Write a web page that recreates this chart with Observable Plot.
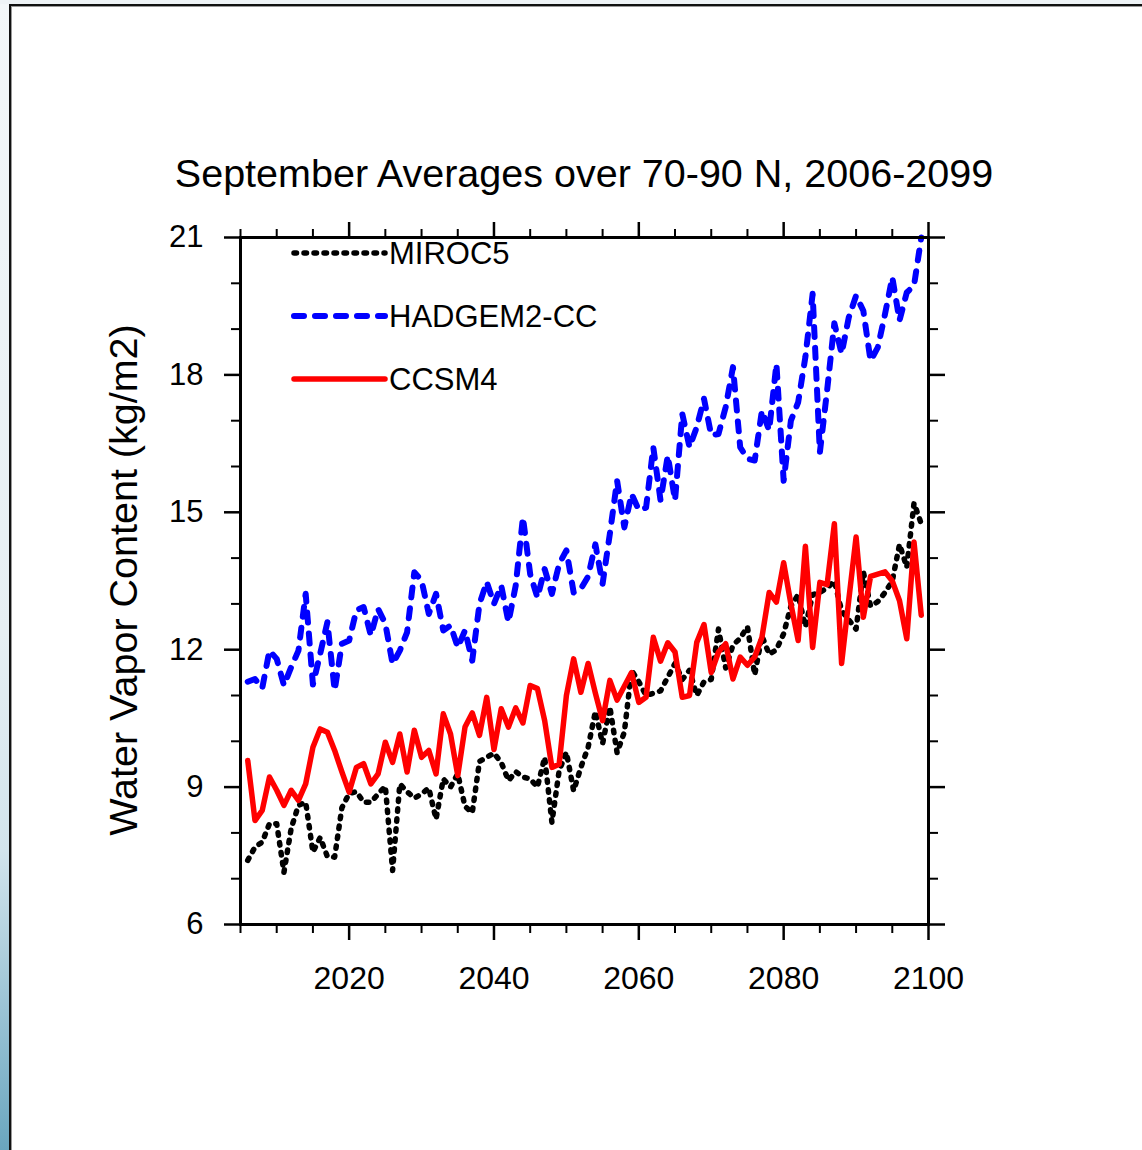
<!DOCTYPE html>
<html>
<head>
<meta charset="utf-8">
<script src="https://cdn.jsdelivr.net/npm/d3@7"></script>
<script src="https://cdn.jsdelivr.net/npm/@observablehq/plot@0.6"></script>
<style>
  html, body { margin: 0; padding: 0; background: #fff; }
  #page { position: relative; width: 1142px; height: 1150px; overflow: hidden; background: #fff; font-family: "Liberation Sans", Arial, sans-serif; }
  #strip { position: absolute; left: 0; top: 0; width: 9px; height: 1150px;
    background: linear-gradient(to bottom, #f3f7f9 0%, #e6eff3 55%, #d2e4ec 74%, #6aa6bf 100%); }
  #topstrip { position: absolute; left: 0; top: 0; width: 1142px; height: 4px; background: #eef3f6; }
  #border { position: absolute; left: 9px; top: 4px; width: 1140px; height: 1150px;
    border-left: 2px solid #111; border-top: 2px solid #111; box-shadow: inset 1px 1px 0 #999; }
  #chart { position: absolute; left: 0; top: 0; }
  #overlay { position: absolute; left: 0; top: 0; }
</style>
</head>
<body>
<div id="page">
  <div id="strip"></div>
  <div id="topstrip"></div>
  <div id="border"></div>
  <div id="chart"></div>
  <svg id="overlay" width="1142" height="1150"></svg>
</div>
<script>
const startYear = 2006;
const seriesNames = ["MIROC5", "HADGEM2-CC", "CCSM4"];

const miroc5 = [
  7.40, 7.69, 7.80, 8.20, 8.20, 7.14, 8.10, 8.60, 8.67, 7.58,
  7.90, 7.48, 7.47, 8.55, 8.86, 8.90, 8.67, 8.67, 8.85, 9.02,
  7.18, 9.07, 8.90, 8.76, 8.85, 8.98, 8.30, 9.18, 9.00, 9.29,
  8.58, 8.44, 9.56, 9.65, 9.74, 9.54, 9.14, 9.34, 9.22, 9.18,
  9.00, 9.65, 8.23, 9.36, 9.76, 8.92, 9.43, 9.87, 10.65, 9.95,
  10.75, 9.75, 10.20, 11.55, 11.30, 11.00, 11.05, 11.10, 11.40, 11.70,
  11.35, 11.55, 11.00, 11.30, 11.35, 12.45, 11.60, 12.10, 12.25, 12.50,
  11.45, 12.30, 11.90, 12.00, 12.35, 12.95, 13.20, 12.50, 13.20, 13.25,
  13.35, 13.50, 12.85, 12.65, 12.45, 13.70, 12.95, 13.05, 13.25, 13.50,
  14.30, 13.80, 15.20, 14.75
];

const hadgem2cc = [
  11.30, 11.36, 11.16, 11.98, 11.80, 11.22, 11.62, 11.98, 13.22, 11.24,
  11.91, 12.60, 11.11, 12.13, 12.20, 12.86, 12.93, 12.31, 12.89, 12.57,
  11.69, 11.98, 12.38, 13.69, 13.51, 12.78, 13.22, 12.42, 12.53, 12.05,
  12.42, 11.76, 13.00, 13.48, 13.00, 13.40, 12.60, 13.40, 14.89, 13.65,
  13.14, 13.76, 13.22, 13.87, 14.17, 13.25, 13.33, 13.60, 14.30, 13.44,
  14.53, 15.69, 14.67, 15.40, 15.05, 15.10, 16.42, 15.26, 16.24, 15.26,
  17.15, 16.42, 16.86, 17.48, 16.68, 16.71, 17.30, 18.17, 16.42, 16.17,
  16.13, 17.22, 16.79, 18.24, 15.69, 17.00, 17.40, 18.39, 19.77, 16.31,
  17.66, 19.13, 18.46, 19.26, 19.73, 19.40, 18.31, 18.60, 19.33, 20.13,
  19.19, 19.80, 19.95, 21.00
];

const ccsm4 = [
  9.58, 8.27, 8.49, 9.22, 8.93, 8.60, 8.93, 8.71, 9.07, 9.87,
  10.27, 10.20, 9.80, 9.33, 8.89, 9.43, 9.51, 9.07, 9.29, 9.98,
  9.54, 10.16, 9.33, 10.24, 9.65, 9.80, 9.29, 10.60, 10.16, 9.25,
  10.31, 10.62, 10.13, 10.96, 9.82, 10.71, 10.31, 10.73, 10.40, 11.22,
  11.15, 10.45, 9.43, 9.50, 11.00, 11.80, 11.07, 11.70, 11.05, 10.45,
  11.33, 10.90, 11.20, 11.50, 10.85, 10.96, 12.27, 11.75, 12.15, 11.95,
  10.96, 11.00, 12.16, 12.55, 11.50, 11.95, 12.13, 11.36, 11.84, 11.66,
  11.84, 12.27, 13.25, 13.04, 13.90, 13.00, 12.20, 14.26, 12.05, 13.47,
  13.42, 14.75, 11.70, 13.10, 14.46, 12.71, 13.60, 13.65, 13.70, 13.50,
  13.07, 12.24, 14.35, 12.75
];

const xMajorTicks = [2020, 2040, 2060, 2080, 2100];
const xMinorTicks = [2005, 2010, 2015, 2025, 2030, 2035, 2045, 2050, 2055, 2065, 2070, 2075, 2085, 2090, 2095];
const yMajorTicks = [6, 9, 12, 15, 18, 21];
const yMinorTicks = [7, 8, 10, 11, 13, 14, 16, 17, 19, 20];

const titleText = "September Averages over 70-90 N, 2006-2099";
const yLabelText = "Water Vapor Content (kg/m2)";

const toRows = (vals) => vals.map((v, i) => ({year: startYear + i, value: v}));

const styles = {
  "MIROC5": {stroke: "#000000", strokeWidth: 5.5, strokeDasharray: "2.5,7.5"},
  "HADGEM2-CC": {stroke: "#0000ff", strokeWidth: 6, strokeDasharray: "10,11"},
  "CCSM4": {stroke: "#ff0000", strokeWidth: 5.5, strokeDasharray: null}
};
const seriesValues = {"MIROC5": miroc5, "HADGEM2-CC": hadgem2cc, "CCSM4": ccsm4};

const blank = () => "";
const font = "Liberation Sans, Arial, sans-serif";

const lineMarks = seriesNames.map(name => Plot.line(toRows(seriesValues[name]), {
  x: "year", y: "value",
  stroke: styles[name].stroke,
  strokeWidth: styles[name].strokeWidth,
  strokeDasharray: styles[name].strokeDasharray,
  strokeLinecap: "round", strokeLinejoin: "round"
}));

const chart = Plot.plot({
  width: 1142, height: 1150,
  marginLeft: 240, marginRight: 214, marginTop: 237, marginBottom: 226,
  x: {domain: [2005, 2100]},
  y: {domain: [6, 21]},
  style: {fontFamily: font, fontSize: "31px", color: "#000", background: "transparent", overflow: "visible"},
  marks: [
    ...lineMarks,
    Plot.frame({stroke: "#000", strokeWidth: 3}),
    Plot.axisX({anchor: "bottom", ticks: xMajorTicks, tickSize: 16, tickPadding: 26, tickFormat: d => String(d), strokeWidth: 2.5, fontSize: 32, label: null}),
    Plot.axisX({anchor: "bottom", ticks: xMinorTicks, tickSize: 9, tickFormat: blank, strokeWidth: 2, label: null}),
    Plot.axisX({anchor: "top", ticks: xMajorTicks, tickSize: 16, tickFormat: blank, strokeWidth: 2.5, label: null}),
    Plot.axisX({anchor: "top", ticks: xMinorTicks, tickSize: 9, tickFormat: blank, strokeWidth: 2, label: null}),
    Plot.axisY({anchor: "left", ticks: yMajorTicks, tickSize: 16, tickPadding: 21, tickFormat: d => String(d), strokeWidth: 2.5, fontSize: 31, label: null}),
    Plot.axisY({anchor: "left", ticks: yMinorTicks, tickSize: 9, tickFormat: blank, strokeWidth: 2, label: null}),
    Plot.axisY({anchor: "right", ticks: yMajorTicks, tickSize: 16, tickFormat: blank, strokeWidth: 2.5, label: null}),
    Plot.axisY({anchor: "right", ticks: yMinorTicks, tickSize: 9, tickFormat: blank, strokeWidth: 2, label: null})
  ]
});
document.getElementById("chart").appendChild(chart);

// Title, y label and legend as real text overlay
const ov = d3.select("#overlay");
ov.append("text").attr("x", 584).attr("y", 187).attr("text-anchor", "middle")
  .attr("font-family", font).attr("font-size", 39.5).attr("fill", "#000").text(titleText);
ov.append("text").attr("transform", "translate(137,580) rotate(-90)").attr("text-anchor", "middle")
  .attr("font-family", font).attr("font-size", 39.5).attr("fill", "#000").text(yLabelText);

const legendRows = [253, 316, 379];
seriesNames.forEach((name, i) => {
  const s = styles[name];
  const y = legendRows[i];
  ov.append("line").attr("x1", 294).attr("x2", 385).attr("y1", y).attr("y2", y)
    .attr("stroke", s.stroke).attr("stroke-width", s.strokeWidth)
    .attr("stroke-dasharray", s.strokeDasharray).attr("stroke-linecap", "round");
  ov.append("text").attr("x", 389).attr("y", y).attr("dy", "0.36em")
    .attr("font-family", font).attr("font-size", 31).attr("fill", "#000").text(name);
});
</script>
</body>
</html>
